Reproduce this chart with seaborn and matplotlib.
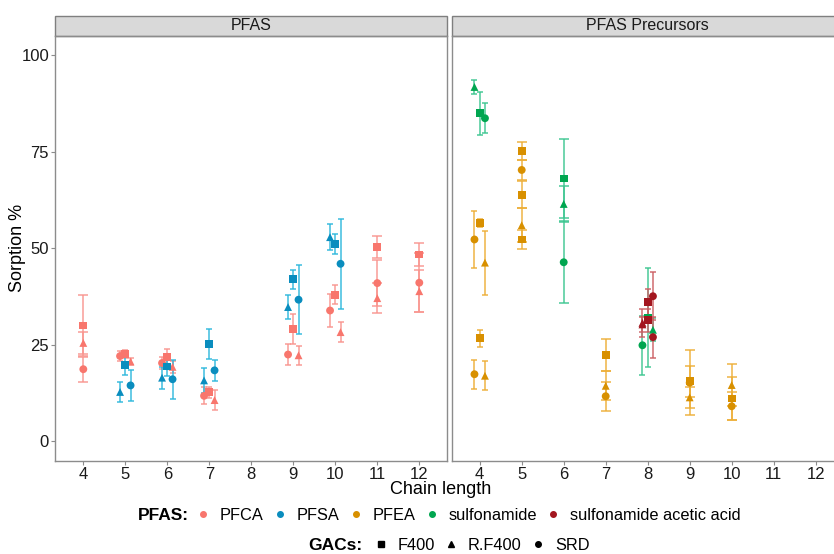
import numpy as np
import pandas as pd
import matplotlib
matplotlib.use("Agg")
import matplotlib.pyplot as plt
from matplotlib.lines import Line2D
from matplotlib.patches import Rectangle
import seaborn as sns

# Data (sorption % mean and error).
panel = (["PFAS"] * 39 + ["PFAS Precursors"] * 35)
pfas_class = (["PFCA"] * 3
              + ["PFCA"] * 3 + ["PFSA"] * 3
              + ["PFCA"] * 3 + ["PFSA"] * 3
              + ["PFCA"] * 3 + ["PFSA"] * 3
              + ["PFCA"] * 3 + ["PFSA"] * 3
              + ["PFCA"] * 3 + ["PFSA"] * 3
              + ["PFCA"] * 3
              + ["PFCA"] * 3
              # precursors
              + ["sulfonamide"] * 3 + ["PFEA"] * 6
              + ["PFEA"] * 5
              + ["sulfonamide"] * 3
              + ["PFEA"] * 3
              + ["sulfonamide"] * 3 + ["sulfonamide acetic acid"] * 6
              + ["PFEA"] * 3
              + ["PFEA"] * 3)
chain = ([4] * 3 + [5] * 6 + [6] * 6 + [7] * 6 + [9] * 6 + [10] * 6
         + [11] * 3 + [12] * 3
         + [4] * 9 + [5] * 5 + [6] * 3 + [7] * 3 + [8] * 9 + [9] * 3
         + [10] * 3)
gac = (["F400", "R.F400", "SRD"]
       + ["SRD", "F400", "R.F400", "R.F400", "F400", "SRD"] * 5
       + ["F400", "SRD", "R.F400"] * 2
       # precursors
       + ["R.F400", "F400", "SRD"] + ["SRD", "F400", "R.F400"] * 2
       + ["F400", "SRD", "F400", "R.F400", "F400"]
       + ["F400", "R.F400", "SRD"]
       + ["F400", "R.F400", "SRD"]
       + ["SRD", "F400", "R.F400"] + ["R.F400", "F400", "SRD"] * 2
       + ["F400", "SRD", "R.F400"]
       + ["R.F400", "F400", "SRD"])
# dodge group index (-1, 0, 1) within a chain length, as ggplot grouped them
slot = ([0, 0, 0]
        + [-1, 0, 1] * 10
        + [0, 0, 0] * 2
        + [-1, 0, 1] * 3
        + [0] * 5 + [0] * 3 + [0] * 3
        + [-1, 0, 1] * 3
        + [0] * 3 + [0] * 3)
sorption = [30.0, 25.5, 18.7,
            22.1, 22.7, 20.7, 12.8, 19.7, 14.5,
            20.3, 21.9, 19.3, 16.5, 19.4, 16.1,
            11.8, 12.7, 10.7, 15.8, 25.3, 18.4,
            22.5, 29.1, 22.3, 34.8, 42.0, 36.7,
            33.9, 38.0, 28.3, 52.9, 51.1, 46.0,
            50.3, 41.0, 37.1,
            48.4, 41.1, 38.9,
            91.8, 85.0, 83.7, 52.3, 56.6, 46.3, 17.4, 26.7, 17.0,
            75.2, 70.3, 63.9, 56.0, 52.3,
            68.1, 61.5, 46.4,
            22.4, 14.4, 11.7,
            24.9, 32.1, 28.9, 30.7, 36.1, 37.6, 30.3, 31.4, 27.0,
            15.6, 15.2, 11.4,
            14.6, 11.1, 9.1]
err = [8.0, 2.8, 3.2,
       1.3, 1.0, 1.0, 2.7, 2.4, 4.1,
       1.5, 2.0, 1.5, 2.8, 2.5, 5.0,
       2.2, 1.5, 2.6, 3.2, 3.9, 2.7,
       2.7, 3.8, 2.4, 3.0, 2.4, 8.9,
       4.3, 2.5, 2.5, 3.4, 2.5, 11.6,
       2.8, 6.0, 3.8,
       3.1, 7.7, 5.4,
       1.7, 5.6, 3.9, 7.4, 1.0, 8.3, 3.7, 2.2, 3.7,
       2.4, 2.5, 3.5, 4.4, 2.4,
       10.2, 4.6, 10.6,
       4.1, 3.8, 3.7,
       7.6, 12.8, 3.0, 3.7, 3.5, 6.2, 2.0, 3.0, 5.3,
       4.0, 8.4, 2.7,
       5.4, 5.5, 3.6]

classes = ["PFCA", "PFSA", "PFEA", "sulfonamide", "sulfonamide acetic acid"]
point_colors = ["#F8766D", "#0A8DBE", "#D89000", "#00A650", "#A3161F"]
bar_colors = ["#F9958E", "#2DB8DC", "#EDAE35", "#3CC690", "#CB5E63"]
gacs = ["F400", "R.F400", "SRD"]
gac_markers = {"F400": "s", "R.F400": "^", "SRD": "o"}

df = pd.DataFrame({"panel": panel, "pfas": pfas_class, "chain": chain,
                   "gac": gac, "slot": slot, "sorption": sorption,
                   "err": err})

# dodge like position_dodge(width = 0.375)
dodge = 0.125
df["x"] = df["chain"] + df["slot"] * dodge
dodged = df.groupby(["panel", "chain"])["slot"].transform(
    lambda s: s.nunique() > 1)

plt.rcParams["font.family"] = ["Liberation Sans", "DejaVu Sans"]
fig = plt.figure(figsize=(8.34, 5.54), dpi=100)

W, H = 834, 554
left_ax = fig.add_axes([55.3 / W, 93.3 / H, 392 / W, 424.7 / H])
right_ax = fig.add_axes([451.7 / W, 93.3 / H, 392 / W, 424.7 / H])

pal = dict(zip(classes, point_colors))
bar_pal = dict(zip(classes, bar_colors))

for ax, name in zip([left_ax, right_ax], ["PFAS", "PFAS Precursors"]):
    sub = df[df["panel"] == name]
    dsub = dodged[df["panel"] == name]
    for (_, row), dg in zip(sub.iterrows(), dsub):
        ax.errorbar(row["x"], row["sorption"], yerr=row["err"], fmt="none",
                    ecolor=bar_pal[row["pfas"]], elinewidth=1.2,
                    capsize=1.9 if dg else 3.8, capthick=1.2, alpha=0.85,
                    zorder=2)
    sns.scatterplot(data=sub, x="x", y="sorption", hue="pfas",
                    hue_order=classes, palette=pal, style="gac",
                    style_order=gacs, markers=gac_markers, s=32,
                    linewidth=0, legend=False, ax=ax, zorder=3)
    ax.set_xlim(3.333, 12.667)
    ax.set_ylim(-5, 105)
    ax.set_xticks(range(4, 13))
    ax.set_yticks([0, 25, 50, 75, 100])
    ax.set_xlabel("")
    ax.set_ylabel("")
    for sp in ax.spines.values():
        sp.set_color("#8C8C8C")
        sp.set_linewidth(1.0)
    ax.tick_params(axis="both", length=3, width=0.8, color="#8C8C8C",
                   labelsize=12, labelcolor="#1A1A1A", pad=1.5)
    # facet strip
    strip = Rectangle((0, 1), 1, 20 / 424.7, transform=ax.transAxes,
                      facecolor="#D9D9D9", edgecolor="#7F7F7F",
                      linewidth=1.0, clip_on=False)
    ax.add_patch(strip)
    ax.text(0.5, 1 + 10 / 424.7, name, transform=ax.transAxes,
            ha="center", va="center", fontsize=11.5, color="#1A1A1A")

right_ax.tick_params(axis="y", labelleft=False, length=0)

fig.text(18 / W, (554 - 248) / H, "Sorption %", rotation=90, ha="center",
         va="center", fontsize=13)
fig.text(441 / W, (554 - 489) / H, "Chain length", ha="center",
         va="center", fontsize=13)

# legends
row1 = (554 - 515) / H
row2 = (554 - 545) / H
leg_kw = dict(loc="center left", frameon=False, fontsize=11.8,
              handlelength=0.6, handletextpad=0.72, columnspacing=0.7,
              borderaxespad=0, borderpad=0)
fig.text(138 / W, row1, "PFAS:", fontweight="bold", fontsize=12.5,
         ha="left", va="center")
pfas_handles = [Line2D([], [], linestyle="", marker="o", markersize=4,
                       color=c) for c in point_colors]
fig.legend(pfas_handles, classes, bbox_to_anchor=(198 / W, row1), ncol=5,
           **leg_kw)
fig.text(308 / W, row2, "GACs:", fontweight="bold", fontsize=12.5,
         ha="left", va="center")
gac_handles = [Line2D([], [], linestyle="", marker=gac_markers[g],
                      markersize=4, color="black") for g in gacs]
fig.legend(gac_handles, gacs, bbox_to_anchor=(376 / W, row2), ncol=3,
           **leg_kw)

fig.savefig("out.png", dpi=100)
